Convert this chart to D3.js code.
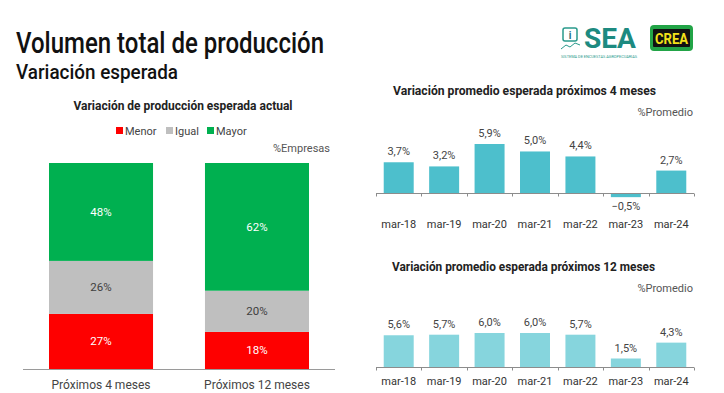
<!DOCTYPE html>
<html>
<head>
<meta charset="utf-8">
<script src="https://cdn.jsdelivr.net/npm/d3@7"></script>
<style>
  body { margin: 0; background: #fff; }
  svg { font-family: Roboto, "Noto Sans", sans-serif; display: block; }
</style>
</head>
<body>
<div id="chart"></div>
<script>
// Left chart: share of companies by expected change
const horizons = ["Próximos 4 meses", "Próximos 12 meses"];
const groups = ["Menor", "Igual", "Mayor"];
const menor = [27, 18];
const igual = [26, 20];
const mayor = [48, 62];

// Right charts: average expected change
const periods = ["mar-18", "mar-19", "mar-20", "mar-21", "mar-22", "mar-23", "mar-24"];
const avg4 = [3.7, 3.2, 5.9, 5.0, 4.4, -0.5, 2.7];
const avg12 = [5.6, 5.7, 6.0, 6.0, 5.7, 1.5, 4.3];

const groupColors = { Menor: "#fe0000", Igual: "#bfbfbf", Mayor: "#00b050" };
const labelColors = { Menor: "#fff", Igual: "#404040", Mayor: "#fff" };
const fmt = v => d3.format(".1f")(v).replace(".", ",") + "%";

const W = 724, H = 393;
const svg = d3.select("#chart").append("svg")
  .attr("width", W).attr("height", H);

// squeeze a text to a given width (source uses a condensed face)
function fit(sel, w) {
  sel.attr("textLength", w).attr("lengthAdjust", "spacingAndGlyphs");
  return sel;
}

// Titles
fit(svg.append("text").attr("x", 16).attr("y", 53)
  .attr("font-size", 29).attr("font-weight", 500).attr("fill", "#111")
  .text("Volumen total de producción"), 308);
fit(svg.append("text").attr("x", 16).attr("y", 79)
  .attr("font-size", 21).attr("font-weight", 500).attr("fill", "#111")
  .text("Variación esperada"), 162);

// Logos
const logo = svg.append("g");
logo.append("rect").attr("x", 563).attr("y", 28).attr("width", 14).attr("height", 13)
  .attr("rx", 2).attr("fill", "none").attr("stroke", "#2a9a8c").attr("stroke-width", 1.5);
logo.append("text").attr("x", 570).attr("y", 39).attr("text-anchor", "middle")
  .attr("font-size", 10).attr("font-weight", "bold").attr("fill", "#1d6f7a").text("i");
logo.append("path").attr("d", "M561 49 L566 45 L570 47 L575 43 L580 45")
  .attr("fill", "none").attr("stroke", "#2a9a8c").attr("stroke-width", 1);
fit(logo.append("text").attr("x", 584).attr("y", 48)
  .attr("font-size", 27).attr("font-weight", "bold").attr("fill", "#1d8a80")
  .text("SEA"), 52);
fit(logo.append("text").attr("x", 561).attr("y", 57.5)
  .attr("font-size", 3.5).attr("fill", "#2a9a8c")
  .text("SISTEMA DE ENCUESTAS AGROPECUARIAS"), 76);
logo.append("rect").attr("x", 650).attr("y", 25).attr("width", 43).attr("height", 26)
  .attr("rx", 4).attr("fill", "#22a447");
logo.append("rect").attr("x", 653).attr("y", 29).attr("width", 37).attr("height", 18)
  .attr("rx", 1).attr("fill", "#111");
fit(logo.append("text").attr("x", 671.5).attr("y", 44).attr("text-anchor", "middle")
  .attr("font-size", 15).attr("font-weight", "bold").attr("fill", "#f3e21a")
  .text("CREA"), 33);

// ---------- Left stacked chart ----------
fit(svg.append("text").attr("x", 183).attr("y", 110).attr("text-anchor", "middle")
  .attr("font-size", 13).attr("font-weight", "bold").attr("fill", "#222")
  .text("Variación de producción esperada actual"), 219);

const legendX = [116, 166, 207];
const legend = svg.append("g").selectAll("g").data(groups).join("g")
  .attr("transform", (d, i) => `translate(${legendX[i]},133)`);
legend.append("rect").attr("x", 0).attr("y", -6).attr("width", 7).attr("height", 7)
  .attr("fill", d => groupColors[d]);
legend.append("text").attr("x", 9).attr("y", 1.5).attr("font-size", 11)
  .attr("fill", "#444").text(d => d);

svg.append("text").attr("x", 330).attr("y", 152).attr("text-anchor", "end")
  .attr("font-size", 11).attr("fill", "#555").text("%Empresas");

const rows = horizons.map((h, i) => ({ h, Menor: menor[i], Igual: igual[i], Mayor: mayor[i] }));
const series = d3.stack().keys(groups).offset(d3.stackOffsetExpand)(rows);

const xL = d3.scaleBand().domain(horizons).range([23, 335])
  .paddingInner(0.333).paddingOuter(0.1667);
const yL = d3.scaleLinear().domain([0, 1]).range([369, 163]);

const seg = svg.append("g").selectAll("g").data(series).join("g")
  .attr("fill", d => groupColors[d.key]);
seg.selectAll("rect").data(d => d.map(p => Object.assign(p, { key: d.key })))
  .join("rect")
  .attr("x", d => xL(d.data.h))
  .attr("width", xL.bandwidth())
  .attr("y", d => yL(d[1]))
  .attr("height", d => yL(d[0]) - yL(d[1]));
seg.selectAll("text").data(d => d).join("text")
  .attr("x", d => xL(d.data.h) + xL.bandwidth() / 2)
  .attr("y", d => (yL(d[0]) + yL(d[1])) / 2 + 4)
  .attr("text-anchor", "middle").attr("font-size", 11.5)
  .attr("fill", d => labelColors[d.key])
  .text(d => d.data[d.key] + "%");

svg.append("line").attr("x1", 23).attr("x2", 335).attr("y1", 369.5).attr("y2", 369.5)
  .attr("stroke", "#9a9a9a").attr("stroke-width", 1.2);
svg.append("g").selectAll("text").data(horizons).join("text")
  .attr("x", d => xL(d) + xL.bandwidth() / 2).attr("y", 389)
  .attr("text-anchor", "middle").attr("font-size", 12).attr("fill", "#444")
  .text(d => d);

// ---------- Right bar charts ----------
function barPanel(cfg) {
  const g = svg.append("g");
  fit(g.append("text").attr("x", cfg.titleX).attr("y", cfg.titleY)
    .attr("font-size", 13).attr("font-weight", "bold").attr("fill", "#222")
    .text(cfg.title), 263);
  g.append("text").attr("x", 693).attr("y", cfg.titleY + 21).attr("text-anchor", "end")
    .attr("font-size", 11).attr("fill", "#555").text("%Promedio");

  const x = d3.scaleBand().domain(periods).range([376, 694])
    .paddingInner(0.34).paddingOuter(0.17);
  const y = d3.scaleLinear().domain(cfg.domain).range(cfg.range);
  const data = periods.map((p, i) => ({ p, v: cfg.values[i] }));

  g.append("g").selectAll("rect").data(data).join("rect")
    .attr("x", d => x(d.p)).attr("width", x.bandwidth())
    .attr("y", d => y(Math.max(0, d.v)))
    .attr("height", d => Math.abs(y(d.v) - y(0)))
    .attr("fill", cfg.color);

  g.append("g").selectAll("text").data(data).join("text")
    .attr("x", d => x(d.p) + x.bandwidth() / 2)
    .attr("y", d => d.v >= 0 ? y(d.v) - 7 : y(d.v) + 13)
    .attr("text-anchor", "middle").attr("font-size", 11).attr("fill", "#444")
    .text(d => fmt(d.v));

  const y0 = Math.round(y(0)) + 0.5;
  g.append("line").attr("x1", 376).attr("x2", 694).attr("y1", y0).attr("y2", y0)
    .attr("stroke", "#8c8c8c");
  const ticks = periods.map(p => x(p) - x.step() * x.paddingInner() / 2).concat([694]);
  g.append("g").selectAll("line").data(ticks).join("line")
    .attr("x1", d => Math.round(d) + 0.5).attr("x2", d => Math.round(d) + 0.5)
    .attr("y1", y0).attr("y2", y0 + 3).attr("stroke", "#8c8c8c");

  g.append("g").selectAll("text").data(periods).join("text")
    .attr("x", d => x(d) + x.bandwidth() / 2).attr("y", cfg.labelY)
    .attr("text-anchor", "middle").attr("font-size", 11).attr("fill", "#333")
    .text(d => d);
}

barPanel({
  title: "Variación promedio esperada próximos 4 meses",
  titleX: 393, titleY: 95,
  values: avg4, domain: [0, 5.9], range: [193, 144],
  color: "#4dbfcc", labelY: 228
});
barPanel({
  title: "Variación promedio esperada próximos 12 meses",
  titleX: 392, titleY: 271,
  values: avg12, domain: [0, 6], range: [367, 333],
  color: "#86d5dd", labelY: 385
});
</script>
</body>
</html>
